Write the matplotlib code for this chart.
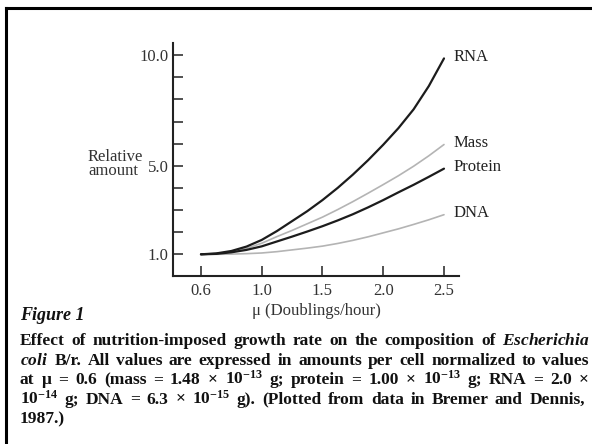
import numpy as np
import matplotlib
matplotlib.use("Agg")
import matplotlib.pyplot as plt
from matplotlib.lines import Line2D

# ---- data ----
mu = [0.6, 0.7, 0.8, 0.9, 1.0, 1.125, 1.25, 1.375, 1.5, 1.625, 1.75, 1.875,
      2.0, 2.125, 2.25, 2.375, 2.5]
rna = [1.0, 1.04, 1.15, 1.35, 1.65, 2.05, 2.5, 2.95, 3.45, 4.0, 4.6, 5.25,
       5.95, 6.7, 7.55, 8.6, 9.85]
mass = [1.0, 1.03, 1.12, 1.27, 1.5, 1.8, 2.08, 2.38, 2.68, 3.02, 3.38, 3.76,
        4.15, 4.55, 4.98, 5.45, 5.96]
protein = [1.0, 1.02, 1.09, 1.2, 1.36, 1.58, 1.8, 2.03, 2.27, 2.53, 2.81, 3.12,
           3.45, 3.8, 4.14, 4.5, 4.87]
dna = [1.0, 1.0, 1.01, 1.03, 1.06, 1.12, 1.2, 1.28, 1.37, 1.49, 1.63, 1.79,
       1.97, 2.15, 2.35, 2.56, 2.79]
series_names = ["RNA", "Mass", "Protein", "DNA"]
x_ticks = [0.6, 1.0, 1.5, 2.0, 2.5]
x_ticklabels = ["0.6", "1.0", "1.5", "2.0", "2.5"]
y_ticks = [1, 2, 3, 4, 5, 6, 7, 8, 9, 10]
y_ticklabels = ["1.0", "", "", "", "5.0", "", "", "", "", "10.0"]

SERIF = "Liberation Serif"
plt.rcParams["font.family"] = [SERIF, "DejaVu Serif"]
plt.rcParams["mathtext.fontset"] = "custom"
plt.rcParams["mathtext.rm"] = "Liberation Serif:bold"
plt.rcParams["mathtext.it"] = "Liberation Serif:italic:bold"
plt.rcParams["mathtext.bf"] = "Liberation Serif:bold"

W, H = 592, 444
fig = plt.figure(figsize=(W / 100, H / 100), dpi=100)
fig.patch.set_facecolor("white")

ax = fig.add_axes([173 / W, 1 - 275.7 / H, (459.3 - 173) / W, (275.7 - 42.7) / H])


def fwd(x):
    x = np.asarray(x, dtype=float)
    return np.where(x < 1.0, 0.5 + (x - 0.6) * 1.25, x)


def inv(t):
    t = np.asarray(t, dtype=float)
    return np.where(t < 1.0, 0.6 + (t - 0.5) / 1.25, t)


ax.set_xscale("function", functions=(fwd, inv))

dark = "#1c1c1c"
light = "#b4b4b4"
styles = {
    "RNA": (rna, dark, 1.6),
    "Mass": (mass, light, 1.2),
    "Protein": (protein, dark, 1.6),
    "DNA": (dna, light, 1.2),
}
for name in ["DNA", "Mass", "Protein", "RNA"]:
    vals, col, lw = styles[name]
    ax.plot(mu, vals, color=col, lw=lw, solid_capstyle="round",
            solid_joinstyle="round")
for name in series_names:
    vals = styles[name][0]
    ax.annotate(name, xy=(mu[-1], vals[-1]), xytext=(6.5, 1), textcoords="offset points",
                ha="left", va="center", fontsize=12, color="#222222")

ax.set_xlim(inv(0.27), 2.626)
ax.set_ylim(0.034, 10.56)
ax.set_xticks(x_ticks)
ax.set_xticklabels(x_ticklabels)
ax.set_yticks(y_ticks)
ax.set_yticklabels(y_ticklabels)
ax.minorticks_off()
for s in ["top", "right"]:
    ax.spines[s].set_visible(False)
for s in ["left", "bottom"]:
    ax.spines[s].set_linewidth(1.5)
    ax.spines[s].set_color("#222222")
ax.tick_params(direction="in", length=7.2, width=1.2, color="#333333",
               labelsize=12, labelcolor="#333333")
ax.tick_params(axis="x", pad=5)
ax.tick_params(axis="y", pad=3)
ax.set_facecolor("none")

ax.set_xlabel("\u03bc (Doublings/hour)", fontsize=12, color="#333333", labelpad=3)
fig.text(88 / W, 1 - 164 / H, "Relative\namount", fontsize=12, color="#333333",
         ha="left", va="center", linespacing=0.9)

# ---- caption ----
fig.text(20 / W, 1 - 316 / H, "Figure 1", fontsize=13, fontweight="bold",
         fontstyle="italic", ha="left", va="center", color="#111111")

cap_lines = [
    ["Effect", "of", "nutrition-imposed", "growth", "rate", "on", "the", "composition",
     "of", r"$\mathit{Escherichia}$"],
    [r"$\mathit{coli}$", "B/r.", "All", "values", "are", "expressed", "in", "amounts", "per",
     "cell", "normalized", "to", "values"],
    ["at", "\u03bc", "=", "0.6", "(mass", "=", "1.48", "\u00d7", "10$^{-13}$", "g;", "protein",
     "=", "1.00", "\u00d7", "10$^{-13}$", "g;", "RNA", "=", "2.0", "\u00d7"],
    ["10$^{-14}$", "g;", "DNA", "=", "6.3", "\u00d7", "10$^{-15}$", "g).", "(Plotted", "from",
     "data", "in", "Bremer", "and", "Dennis,"],
    ["1987.)"],
]
cap_y = [340, 359.5, 379, 398.5, 418]
cap_right = [590, 589, 589, 585, None]
x0 = 20
renderer = fig.canvas.get_renderer()
for words, yy, right in zip(cap_lines, cap_y, cap_right):
    texts = [fig.text(0, 1 - yy / H, w, fontsize=12.5, fontweight="bold", ha="left",
                      va="baseline", color="#111111") for w in words]
    widths = [t.get_window_extent(renderer).width for t in texts]
    if right is None or len(words) < 2:
        gap = 4.0
    else:
        gap = (right - x0 - sum(widths)) / (len(words) - 1)
    x = x0
    for t, w in zip(texts, widths):
        t.set_x(x / W)
        t.set_y(1 - (yy + 5) / H)
        x += w + gap

# ---- frame ----
fig.add_artist(Line2D([6 / W, 6 / W], [0, 1 - 8 / H], transform=fig.transFigure,
                      color="black", lw=2.2))
fig.add_artist(Line2D([6 / W, 1], [1 - 8 / H, 1 - 8 / H], transform=fig.transFigure,
                      color="black", lw=2.2))

fig.savefig("out.png", dpi=100, facecolor="white")
